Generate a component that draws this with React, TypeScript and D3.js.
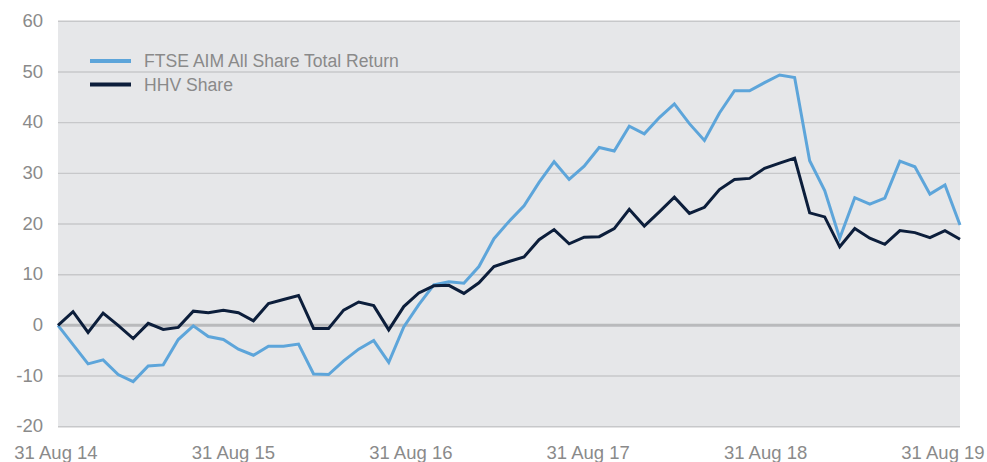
import React from "react";
import * as d3 from "d3";

const seriesNames = ["FTSE AIM All Share Total Return", "HHV Share"];
const seriesColors = ["#5DA5DA", "#0C1E3B"];

const ftse = [
  0, -3.8, -7.6, -6.8, -9.7, -11.1, -8.0, -7.8, -2.8, -0.1,
  -2.2, -2.8, -4.7, -5.9, -4.1, -4.1, -3.7, -9.6, -9.7, -7.0,
  -4.7, -3.0, -7.3, -0.3, 4.1, 8.0, 8.6, 8.3, 11.6, 17.1,
  20.5, 23.6, 28.2, 32.3, 28.8, 31.4, 35.1, 34.4, 39.3, 37.8,
  41.0, 43.7, 39.8, 36.5, 41.9, 46.3, 46.3, 47.9, 49.4, 48.9,
  32.5, 26.6, 17.2, 25.2, 23.9, 25.1, 32.4, 31.3, 25.9, 27.7,
  19.8,
];

const hhv = [
  0, 2.7, -1.4, 2.4, 0.0, -2.6, 0.4, -0.8, -0.4, 2.8,
  2.5, 3.0, 2.5, 0.9, 4.3, 5.1, 5.9, -0.6, -0.6, 3.0,
  4.6, 3.9, -0.9, 3.7, 6.4, 7.8, 7.9, 6.3, 8.4, 11.6,
  12.6, 13.5, 16.9, 18.9, 16.1, 17.4, 17.5, 19.1, 22.9, 19.6,
  22.4, 25.3, 22.1, 23.3, 26.8, 28.8, 29.0, 31.0, 32.0, 33.0,
  22.2, 21.4, 15.5, 19.1, 17.2, 16.0, 18.7, 18.3, 17.3, 18.7,
  17.0,
];

const xTickLabels = ["31 Aug 14", "31 Aug 15", "31 Aug 16", "31 Aug 17", "31 Aug 18", "31 Aug 19"];
const yTicks = [-20, -10, 0, 10, 20, 30, 40, 50, 60];

export default function App() {
  const W = 987;
  const H = 462;
  const left = 58;
  const right = 960;
  const top = 21.3;
  const bottom = 426.7;

  const x = d3.scaleLinear().domain([0, ftse.length - 1]).range([left, right]);
  const y = d3.scaleLinear().domain([-20, 60]).range([bottom, top]);
  const xLab = d3.scalePoint<string>().domain(xTickLabels).range([56, 943]);

  const line = d3
    .line<number>()
    .x((_, i) => x(i))
    .y((d) => y(d))
    .curve(d3.curveLinear);

  const font = "'Liberation Sans', Arial, Helvetica, sans-serif";
  const textColor = "#8a8a8a";

  return (
    <svg
      width={W}
      height={H}
      style={{ position: "absolute", left: 0, top: 0, background: "#fff" }}
    >
      <rect x={left} y={top} width={right - left} height={bottom - top} fill="#E6E7E9" />
      {yTicks.map((t) => (
        <line
          key={"g" + t}
          x1={left}
          x2={right}
          y1={y(t)}
          y2={y(t)}
          stroke={t === 0 ? "#B9BABC" : "#C7C8CA"}
          strokeWidth={t === 0 ? 3 : 1.4}
        />
      ))}
      {yTicks.map((t) => (
        <text
          key={"yl" + t}
          x={43}
          y={y(t)}
          dy="0.3em"
          textAnchor="end"
          fontFamily={font}
          fontSize={18.5}
          fill={textColor}
        >
          {t}
        </text>
      ))}
      {xTickLabels.map((l) => (
        <text
          key={l}
          x={xLab(l)}
          y={459}
          textAnchor="middle"
          fontFamily={font}
          fontSize={18.5}
          fill={textColor}
        >
          {l}
        </text>
      ))}
      <path d={line(ftse) || ""} fill="none" stroke={seriesColors[0]} strokeWidth={3} strokeLinejoin="miter" />
      <path d={line(hhv) || ""} fill="none" stroke={seriesColors[1]} strokeWidth={3} strokeLinejoin="miter" />
      {seriesNames.map((n, i) => (
        <g key={n}>
          <line
            x1={90}
            x2={131}
            y1={61 + i * 23.5}
            y2={61 + i * 23.5}
            stroke={seriesColors[i]}
            strokeWidth={4}
          />
          <text
            x={144}
            y={67 + i * 23.5}
            fontFamily={font}
            fontSize={17.6}
            fill={textColor}
          >
            {n}
          </text>
        </g>
      ))}
    </svg>
  );
}
